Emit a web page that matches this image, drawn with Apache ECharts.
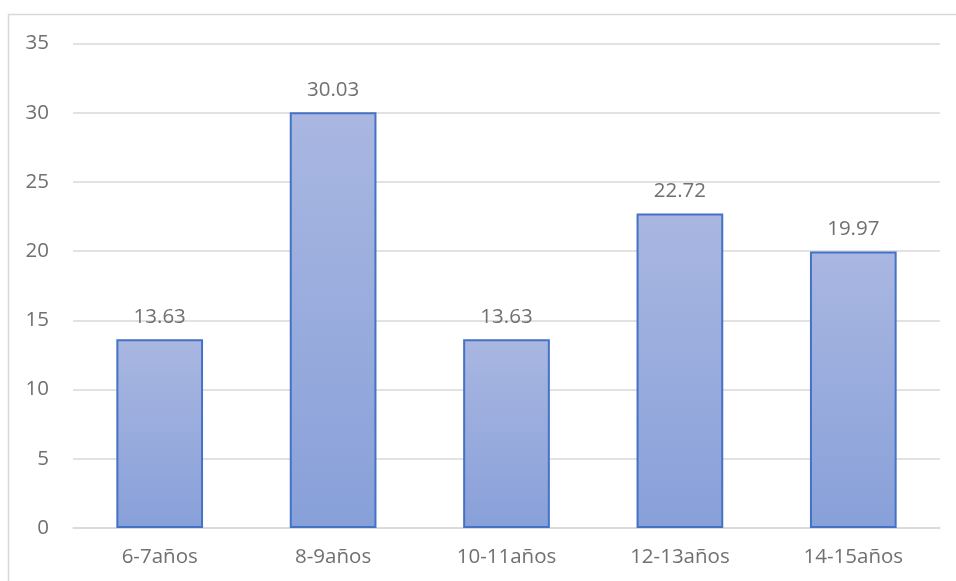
<!DOCTYPE html>
<html>
<head>
<meta charset="utf-8">
<script src="https://cdn.jsdelivr.net/npm/echarts@6/dist/echarts.min.js"></script>
<style>
  html, body { margin: 0; padding: 0; background: #ffffff; }
  #chart { width: 956px; height: 581px; }
</style>
</head>
<body>
<div id="chart"></div>
<script>
// Age groups and their percentages
const categories = ['6-7años', '8-9años', '10-11años', '12-13años', '14-15años'];
const values = [13.63, 30.03, 13.63, 22.72, 19.97];
const yTicks = [0, 5, 10, 15, 20, 25, 30, 35];

const chart = echarts.init(document.getElementById('chart'));
const font = '"Open Sans", sans-serif';
const textColor = '#707070';

chart.setOption({
  backgroundColor: '#ffffff',
  animation: false,
  graphic: [{
    type: 'rect',
    shape: { x: 8.5, y: 14.5, width: 1000, height: 700 },
    style: { fill: 'none', stroke: '#d9d9d9', lineWidth: 1.5 },
    silent: true,
    z: -1
  }],
  grid: { left: 73, right: 16, top: 43.5, bottom: 53, containLabel: false },
  xAxis: {
    type: 'category',
    data: categories,
    axisLine: { show: true, lineStyle: { color: '#d9d9d9', width: 1.5 } },
    axisTick: { show: false },
    axisLabel: { color: textColor, fontSize: 20.5, fontFamily: font, margin: 19 }
  },
  yAxis: {
    type: 'value',
    min: yTicks[0],
    max: yTicks[yTicks.length - 1],
    interval: 5,
    axisLine: { show: false },
    axisTick: { show: false },
    splitLine: { lineStyle: { color: '#d9d9d9', width: 1.5 } },
    axisLabel: { color: textColor, fontSize: 20.5, fontFamily: font, margin: 24 }
  },
  series: [{
    type: 'bar',
    data: values,
    barWidth: '50%',
    itemStyle: {
      color: new echarts.graphic.LinearGradient(0, 0, 0, 1, [
        { offset: 0, color: '#a9b7e1' },
        { offset: 1, color: '#88a0d9' }
      ]),
      borderColor: '#4472c4',
      borderWidth: 2
    },
    label: {
      show: true,
      position: 'top',
      distance: 12,
      color: textColor,
      fontSize: 20.5,
      fontFamily: font,
      formatter: p => p.value.toFixed(2)
    }
  }]
});
</script>
</body>
</html>
